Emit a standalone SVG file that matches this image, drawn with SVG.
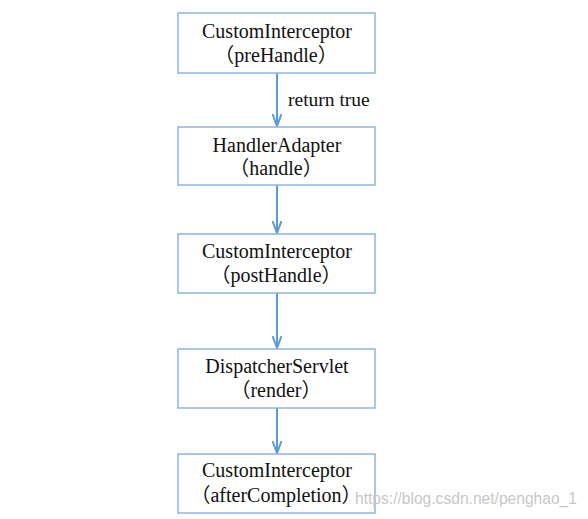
<svg xmlns="http://www.w3.org/2000/svg" width="588" height="519" viewBox="0 0 588 519">
<style>
.box{fill:#fff;stroke:#8fb4e3;stroke-width:1.5}
.t{font-family:"Liberation Serif","Noto Sans CJK SC",serif;font-size:20px;fill:#111;text-anchor:middle}
.lbl{font-family:"Liberation Serif",serif;font-size:19.5px;fill:#111}
.c{stroke:#5b9bd5;stroke-width:2;fill:none}
.wm{font-family:"Liberation Sans",Arial,sans-serif;font-size:15.6px;fill:#c8c8c8}
</style>
<defs>
<marker id="ah" viewBox="0 0 14 10" refX="13" refY="5" markerWidth="14" markerHeight="10" markerUnits="userSpaceOnUse" orient="auto">
<path d="M1,0.5 L13,5 L1,9.5" fill="none" stroke="#5b9bd5" stroke-width="2"/>
</marker>
</defs>
<rect width="588" height="519" fill="#fff"/>
<g id="connectors">
<line class="c" x1="277" y1="73" x2="277" y2="126" marker-end="url(#ah)"/>
<line class="c" x1="277" y1="185" x2="277" y2="233" marker-end="url(#ah)"/>
<line class="c" x1="277" y1="293" x2="277" y2="348" marker-end="url(#ah)"/>
<line class="c" x1="277" y1="408" x2="277" y2="453" marker-end="url(#ah)"/>
<text class="lbl" x="288" y="106">return true</text>
</g>
<g id="n1">
<rect class="box" x="178" y="13" width="197" height="60"/>
<text class="t" x="277" y="38">CustomInterceptor</text>
<text class="t" x="276" y="62">（preHandle）</text>
</g>
<g id="n2">
<rect class="box" x="178" y="127" width="197" height="58"/>
<text class="t" x="277" y="152">HandlerAdapter</text>
<text class="t" x="276" y="175">（handle）</text>
</g>
<g id="n3">
<rect class="box" x="178" y="234" width="197" height="59"/>
<text class="t" x="277" y="258">CustomInterceptor</text>
<text class="t" x="276" y="282">（postHandle）</text>
</g>
<g id="n4">
<rect class="box" x="178" y="349" width="197" height="59"/>
<text class="t" x="277" y="373">DispatcherServlet</text>
<text class="t" x="276" y="397">（render）</text>
</g>
<g id="n5">
<rect class="box" x="178" y="454" width="197" height="59"/>
<text class="t" x="277" y="477">CustomInterceptor</text>
<text class="t" x="276" y="502">（afterCompletion）</text>
</g>
<text class="wm" x="355" y="504">https://blog.csdn.net/penghao_1</text>
</svg>
